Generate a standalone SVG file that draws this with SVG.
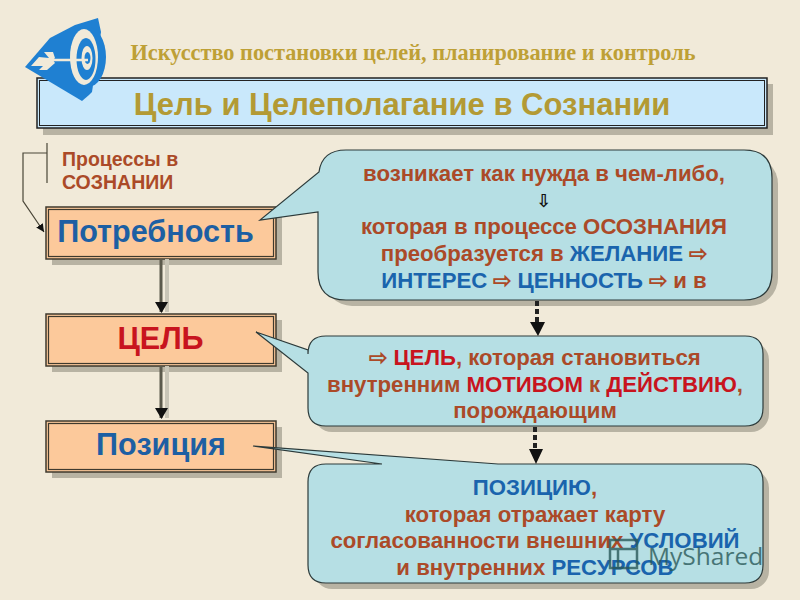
<svg xmlns="http://www.w3.org/2000/svg" width="800" height="600" viewBox="0 0 800 600">
<style>
text{font-family:"Liberation Sans",Arial,sans-serif;font-weight:bold;text-anchor:middle}
.o{fill:#ab4a28}.b{fill:#1a64ad}.r{fill:#c8141e}
.t{font-size:22.200px;fill:#ab4a28}
.sh{fill:#b8b3a3}
.box{fill:#fcc99b;stroke:#3f3a2e;stroke-width:1.5}
.in{fill:none;stroke:#3f3a2e;stroke-width:1.2}
.call{fill:#b6dfe4;stroke:#2c3a3a;stroke-width:1.2}
.ln{fill:none;stroke:#4a4638;stroke-width:1.2}
</style>
<defs>
<marker id="tri" markerWidth="9" markerHeight="9" refX="8" refY="4" orient="auto" markerUnits="userSpaceOnUse"><path d="M0 0L8 4L0 8Z" fill="#111"/></marker>
</defs>
<rect width="800" height="600" fill="#f1ead9"/>
<text id="subtitle" x="413" y="60" font-size="22.300" style="font-family:'Liberation Serif',serif;fill:#bea036">Искусство постановки целей, планирование и контроль</text>
<g id="title">
<rect x="43" y="84" width="730" height="51" class="sh"/>
<rect x="37" y="78" width="730" height="50" fill="#c9e8fb" stroke="#222" stroke-width="1.5"/>
<rect x="39.500" y="80.500" width="725" height="45" fill="none" stroke="#222" stroke-width="1"/>
<text x="402" y="115" font-size="31" fill="#b39a34">Цель и Целеполагание в Сознании</text>
</g>
<g id="logo">
<path d="M25 67L50 38L75 25L98 18L101 32L92 92L89 95L82 101Z" fill="#1f80d2"/>
<ellipse cx="88" cy="57" rx="18" ry="30" fill="#1f80d2"/>
<ellipse cx="84" cy="57" rx="14" ry="28" fill="#f1ead9"/>
<ellipse cx="86" cy="59" rx="9.500" ry="21" fill="#1f80d2"/>
<ellipse cx="87" cy="58" rx="5.500" ry="12" fill="#f1ead9"/>
<ellipse cx="87.500" cy="58" rx="3" ry="6" fill="#1f80d2"/>
<path d="M50 60H88" stroke="#f1ead9" stroke-width="2.500"/>
<path d="M31 66L39 57L49 58L44 52L53 52L55 58L53 60L55 63L47 70L39 70L43 66Z" fill="#f1ead9"/>
</g>
<g id="process-label">
<text x="62" y="166" font-size="19.500" class="o" style="text-anchor:start">Процессы в</text>
<text x="62" y="189" font-size="19.500" class="o" style="text-anchor:start">СОЗНАНИИ</text>
</g>
<g id="node-potrebnost">
<rect x="52" y="213" width="230" height="52" class="sh"/>
<rect x="46" y="207" width="230" height="52" class="box"/>
<rect x="48.500" y="209.500" width="225" height="47" class="in"/>
<text x="155.500" y="242" font-size="30.600" fill="#1d5fa3">Потребность</text>
</g>
<g id="node-cel">
<rect x="52" y="320" width="230" height="52" class="sh"/>
<rect x="46" y="314" width="230" height="52" class="box"/>
<rect x="48.500" y="316.500" width="225" height="47" class="in"/>
<text x="160.500" y="349" font-size="30.600" class="r">ЦЕЛЬ</text>
</g>
<g id="node-pozicia">
<rect x="52" y="427" width="230" height="51" class="sh"/>
<rect x="46" y="421" width="230" height="51" class="box"/>
<rect x="48.500" y="423.500" width="225" height="46" class="in"/>
<text x="161" y="455" font-size="30.600" fill="#1d5fa3">Позиция</text>
</g>
<g id="callout-1">
<rect x="324" y="156" width="454" height="150" rx="28" class="sh"/>
<path class="call" d="M346 150H744Q772 150 772 178V272Q772 300 744 300H346Q318 300 318 272V212L260 220L319 172Q322 150 346 150Z"/>
<text x="544" y="181" class="t">возникает как нужда в чем-либо,</text>
<text x="544" y="207" font-size="18" fill="#111" style="font-family:'DejaVu Sans',sans-serif">⇩</text>
<text x="544" y="234" class="t">которая в процессе ОСОЗНАНИЯ</text>
<text x="544" y="261" class="t">преобразуется в <tspan class="b">ЖЕЛАНИЕ</tspan> ⇨</text>
<text x="544" y="288" class="t"><tspan class="b">ИНТЕРЕС</tspan> ⇨ <tspan class="b">ЦЕННОСТЬ</tspan> ⇨ и в</text>
</g>
<g id="callout-2">
<rect x="314" y="342" width="455" height="90" rx="18" class="sh"/>
<path class="call" d="M326 336H745Q763 336 763 354V408Q763 426 745 426H326Q308 426 308 408V373L256 332L308 350V354Q308 336 326 336Z"/>
<text x="535" y="365" class="t">⇨ <tspan class="r">ЦЕЛЬ</tspan>, которая становиться</text>
<text x="535" y="392" class="t">внутренним <tspan class="r">МОТИВОМ</tspan> к <tspan class="r">ДЕЙСТВИЮ</tspan>,</text>
<text x="535" y="418" class="t">порождающим</text>
</g>
<g id="callout-3">
<rect x="314" y="470" width="455" height="119" rx="18" class="sh"/>
<path class="call" d="M326 464H382L253 446L498 464H745Q763 464 763 482V565Q763 583 745 583H326Q308 583 308 565V482Q308 464 326 464Z"/>
<text x="535" y="495" class="t"><tspan class="b">ПОЗИЦИЮ</tspan>,</text>
<text x="535" y="522" class="t">которая отражает карту</text>
<text x="535" y="548" class="t">согласованности внешних <tspan class="b">УСЛОВИЙ</tspan></text>
<text x="535" y="575" class="t">и внутренних <tspan class="b">РЕСУРСОВ</tspan></text>
</g>
<g id="connectors">
<path class="ln" d="M47 143V183M47 153H23V201L44 232" marker-end="url(#tri)"/>
<path d="M167 259V312M167 366V418" stroke="#c9c5b6" stroke-width="4"/>
<path d="M161 259V312M161 366V418" stroke="#5c5a4c" stroke-width="3" fill="none"/>
<path d="M155 302H168L161.500 313ZM155 408H168L161.500 419Z" fill="#111"/>
<path d="M537 301V326M535 427V452" stroke="#222" stroke-width="4" stroke-dasharray="5 3" fill="none"/>
<path d="M530 322H545L538 336ZM529 449H543L536 464Z" fill="#111"/>
</g>
<g id="watermark" opacity="0.8">
<path d="M610 540H637V568H610ZM610 549H637M618 549V568" fill="none" stroke="#2b5a5a" stroke-width="2.500"/>
<text x="648" y="565" font-size="24.500" fill="#2b5a5a" style="text-anchor:start;font-weight:normal;font-family:'Open Sans',sans-serif">MyShared</text>
</g>
</svg>
